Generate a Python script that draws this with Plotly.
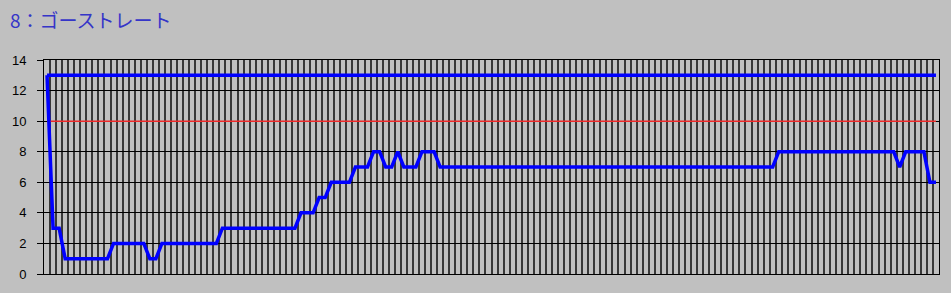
import plotly.graph_objects as go

# ---- data ----
turns = list(range(1, 149))  # 148 categories
rank = [
    13, 3, 3, 1, 1, 1, 1, 1, 1, 1,
    1, 2, 2, 2, 2, 2, 2, 1, 1, 2,
    2, 2, 2, 2, 2, 2, 2, 2, 2, 3,
    3, 3, 3, 3, 3, 3, 3, 3, 3, 3,
    3, 3, 4, 4, 4, 5, 5, 6, 6, 6,
    6, 7, 7, 7, 8, 8, 7, 7, 8, 7,
    7, 7, 8, 8, 8, 7, 7, 7, 7, 7,
    7, 7, 7, 7, 7, 7, 7, 7, 7, 7,
    7, 7, 7, 7, 7, 7, 7, 7, 7, 7,
    7, 7, 7, 7, 7, 7, 7, 7, 7, 7,
    7, 7, 7, 7, 7, 7, 7, 7, 7, 7,
    7, 7, 7, 7, 7, 7, 7, 7, 7, 7,
    7, 8, 8, 8, 8, 8, 8, 8, 8, 8,
    8, 8, 8, 8, 8, 8, 8, 8, 8, 8,
    8, 7, 8, 8, 8, 8, 6, 6,
]
players = [13] * len(turns)
border = [10] * len(turns)
y_ticks = [0, 2, 4, 6, 8, 10, 12, 14]
title_text = "8：ゴーストレート"

BG = "#C0C0C0"
x_idx = list(range(len(turns)))

fig = go.Figure()
fig.add_trace(go.Scatter(x=x_idx, y=border, mode="lines",
                         line=dict(color="#EE2A2A", width=1.5), hoverinfo="skip"))
fig.add_trace(go.Scatter(x=x_idx, y=players, mode="lines",
                         line=dict(color="#0000FF", width=3.5), hoverinfo="skip"))
fig.add_trace(go.Scatter(x=x_idx, y=rank, mode="lines",
                         line=dict(color="#0000FF", width=3.5), hoverinfo="skip"))

fig.update_layout(
    width=951, height=293,
    margin=dict(l=44, r=11, t=60, b=15),
    paper_bgcolor=BG, plot_bgcolor=BG,
    showlegend=False,
    title=dict(text=title_text, x=10/951, xanchor="left", xref="container",
               y=1 - 21/293, yanchor="middle", yref="container",
               font=dict(family="Noto Sans CJK JP", size=19, color="#3535C8")),
    xaxis=dict(range=[-0.5, len(turns) - 0.5], tickmode="linear", tick0=0.5, dtick=1,
               showticklabels=False, ticks="", showgrid=True,
               gridcolor="#383838", gridwidth=2,
               showline=True, linecolor="#000000", linewidth=1, mirror=True,
               zeroline=False, fixedrange=True),
    yaxis=dict(range=[0, 14], tickmode="array", tickvals=y_ticks,
               ticktext=[str(v) for v in y_ticks],
               ticks="outside", ticklen=6, tickcolor="#000000", tickwidth=1,
               ticklabelstandoff=8,
               tickfont=dict(family="Liberation Sans", size=13, color="#000000"),
               showgrid=True, gridcolor="#000000", gridwidth=1,
               showline=True, linecolor="#000000", linewidth=1, mirror=True,
               zeroline=False, fixedrange=True),
)

fig.write_html("out.html")
